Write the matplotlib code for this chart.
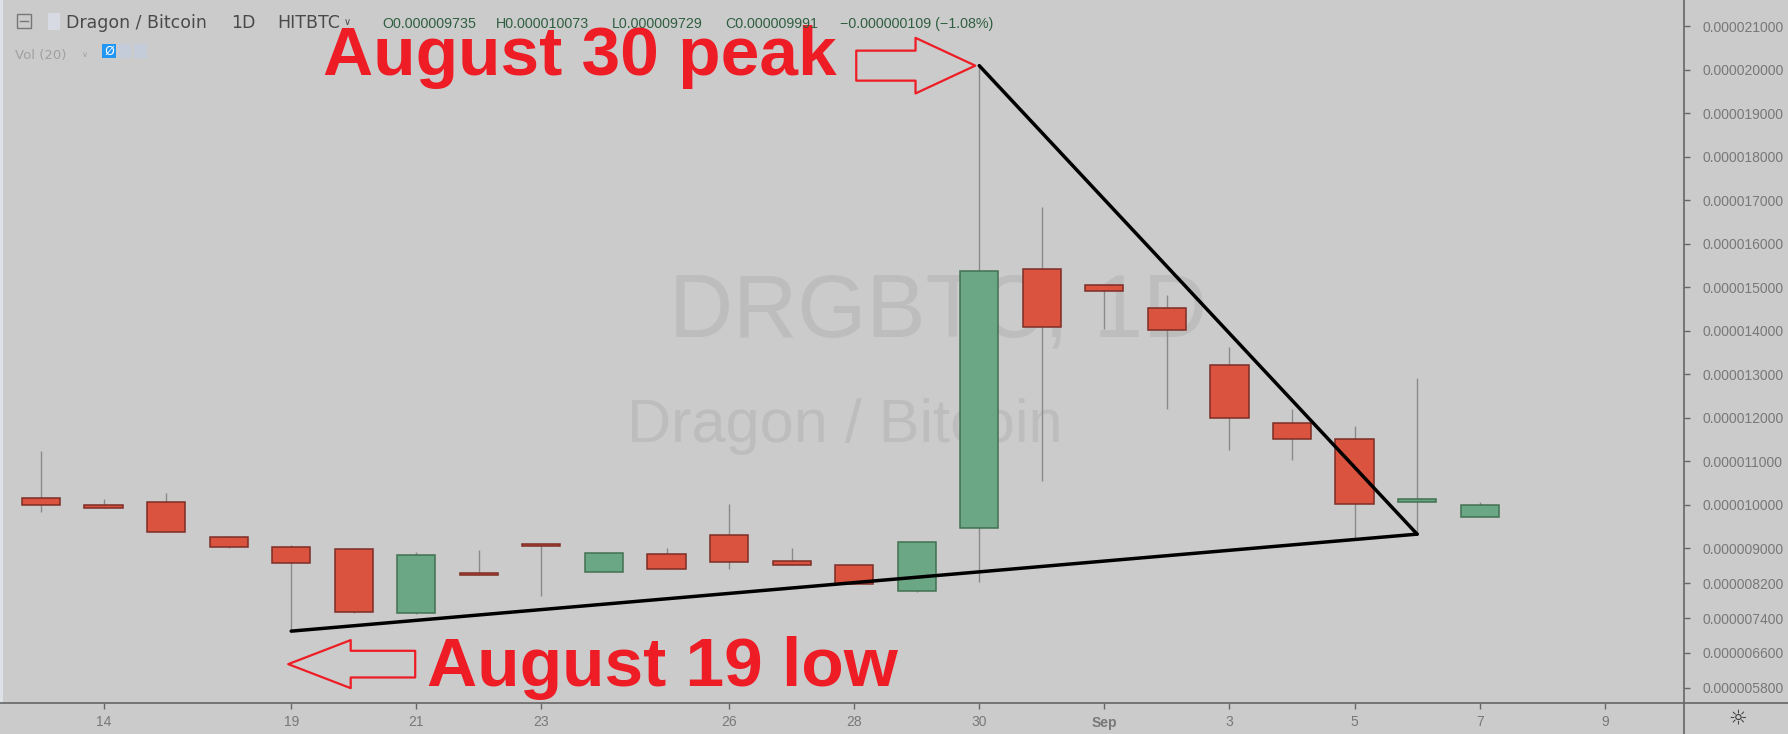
import numpy as np
import matplotlib
matplotlib.use("Agg")
import matplotlib.pyplot as plt
from matplotlib import font_manager
from matplotlib.transforms import offset_copy
from matplotlib.patches import Rectangle
from matplotlib.lines import Line2D

# figure size in pixels
W, H = 1788, 734

# daily candles, prices in 1e-6 BTC
dates = ["Aug 13", "Aug 14", "Aug 15", "Aug 17", "Aug 19", "Aug 20", "Aug 21", "Aug 22",
         "Aug 23", "Aug 24", "Aug 25", "Aug 26", "Aug 27", "Aug 28", "Aug 29", "Aug 30",
         "Aug 31", "Sep 1", "Sep 2", "Sep 3", "Sep 4", "Sep 5", "Sep 6", "Sep 7"]
opens = [10.16, 10.00, 10.07, 9.27, 9.04, 8.99, 7.51, 8.44, 9.10, 8.47, 8.87, 9.30,
         8.71, 8.62, 8.02, 9.46, 15.42, 15.05, 14.53, 13.22, 11.88, 11.51, 10.06, 9.735]
highs = [11.24, 10.14, 10.27, 9.28, 9.07, 9.00, 8.91, 8.96, 9.11, 8.92, 9.00, 10.02,
         9.00, 8.63, 9.16, 20.10, 16.86, 15.06, 14.83, 13.64, 12.21, 11.82, 12.93, 10.073]
lows = [9.84, 9.92, 9.38, 9.02, 7.10, 7.51, 7.50, 8.39, 7.91, 8.46, 8.52, 8.52,
        8.61, 8.18, 8.01, 8.23, 10.56, 14.05, 12.21, 11.26, 11.04, 9.24, 9.33, 9.729]
closes = [9.99, 9.92, 9.39, 9.03, 8.67, 7.53, 8.84, 8.40, 9.06, 8.90, 8.53, 8.70,
          8.62, 8.19, 9.15, 15.39, 14.09, 14.91, 14.03, 12.00, 11.51, 10.02, 10.13, 9.991]

# time axis labels (bar index -> label), price axis ticks in 1e-9 BTC
tick_pos = [1, 4, 6, 8, 11, 13, 15, 17, 19, 21, 23, 25]
tick_labels = ["14", "19", "21", "23", "26", "28", "30", "Sep", "3", "5", "7", "9"]
price_ticks = [21000, 20000, 19000, 18000, 17000, 16000, 15000, 14000, 13000,
               12000, 11000, 10000, 9000, 8200, 7400, 6600, 5800]

# trendline anchor bars: Aug 19 low, Aug 30 high, Sep 6 low
i_low, i_peak, i_apex = 4, 15, 22

BG = "#cbcbcb"
AX = "#666666"
LBL = "#787878"
RED = "#d9533f"
RED_EDGE = "#7e2d24"
GREEN = "#6ba785"
GREEN_EDGE = "#41714f"
WICK = "#8a8a8a"
MARK = "#ee1c24"
WATER = "#bdbdbd"

plt.rcParams["font.family"] = ["Liberation Sans", "DejaVu Sans"]


def have_font(name):
    try:
        font_manager.findfont(font_manager.FontProperties(family=name),
                              fallback_to_default=False)
        return True
    except ValueError:
        return False


# the big watermark is very condensed in the screenshot
if have_font("Liberation Sans Narrow"):
    WM_FAMILY, WM_SIZE = "Liberation Sans Narrow", 76
else:
    WM_FAMILY, WM_SIZE = "Liberation Sans", 64


def fx(px):
    return px / W


def fy(py):
    return 1 - py / H


o = np.array(opens) * 1e-6
h = np.array(highs) * 1e-6
l = np.array(lows) * 1e-6
c = np.array(closes) * 1e-6
idx = np.arange(len(dates))
up = c >= o

fig = plt.figure(figsize=(W / 100, H / 100), dpi=100, facecolor=BG)
ax = fig.add_axes([0, 31 / H, 1684 / W, 703 / H])
ax.set_facecolor(BG)
for s in ax.spines.values():
    s.set_visible(False)

# candles
ax.vlines(idx, l, h, color=WICK, lw=1.0, zorder=2)
ax.bar(idx, np.abs(c - o), bottom=np.minimum(o, c), width=0.61,
       color=np.where(up, GREEN, RED), edgecolor=np.where(up, GREEN_EDGE, RED_EDGE),
       linewidth=1.1, zorder=3)

# triangle trendlines
ax.plot([i_low, i_apex], [l[i_low], l[i_apex]], color="black", lw=2.5,
        solid_capstyle="round", zorder=5)
ax.plot([i_peak, i_apex], [h[i_peak], l[i_apex]], color="black", lw=2.5,
        solid_capstyle="round", zorder=5)

ax.set_xlim(-0.6555, 26.267)
ax.set_ylim(5.448e-6, 21.609e-6)

ax.set_xticks(tick_pos)
ax.set_xticklabels(tick_labels)
for t in ax.get_xticklabels():
    if t.get_text() == "Sep":
        t.set_fontweight("bold")
        t.set_color("#555555")
ax.yaxis.tick_right()
ax.set_yticks([v * 1e-9 for v in price_ticks])
ax.set_yticklabels([f"{v * 1e-9:.9f}" for v in price_ticks])
ax.tick_params(axis="y", direction="out", length=4, width=1, color=AX,
               labelcolor=LBL, labelsize=10, pad=9)
ax.tick_params(axis="x", direction="out", length=4, width=1, color=AX,
               labelcolor=LBL, labelsize=10, pad=5)

# axis borders running through the whole figure
fig.add_artist(Line2D([0, 1], [fy(703), fy(703)], color=AX, lw=1.2))
fig.add_artist(Line2D([fx(1684), fx(1684)], [0, 1], color=AX, lw=1.2))
fig.add_artist(Rectangle((0, fy(703)), fx(3), 703 / H, color="#dde1e8", lw=0))

# watermark
ax.text(fx(938), fy(336), "DRGBTC, 1D", transform=fig.transFigure, ha="center",
        va="baseline", fontsize=WM_SIZE, family=WM_FAMILY, color=WATER, zorder=1)
ax.text(fx(845), fy(442), "Dragon / Bitcoin", transform=fig.transFigure, ha="center",
        va="baseline", fontsize=44, color=WATER, zorder=1)

# annotations
ax.annotate("", xy=(i_peak, h[i_peak]),
            xycoords=offset_copy(ax.transData, fig=fig, x=-4, y=0, units="dots"),
            xytext=(-119, 0), textcoords="offset pixels",
            arrowprops=dict(arrowstyle="simple,head_length=43,head_width=40,tail_width=21.6",
                            fc="none", ec=MARK, lw=1.6, shrinkA=0, shrinkB=0,
                            mutation_scale=1), zorder=6)
ax.annotate("August 30 peak", xy=(i_peak, h[i_peak]), xytext=(-143, -9),
            textcoords="offset pixels", ha="right", va="baseline", fontsize=50,
            fontweight="bold", color=MARK, zorder=6)
ax.annotate("", xy=(i_low, l[i_low]),
            xycoords=offset_copy(ax.transData, fig=fig, x=-3, y=-33, units="dots"),
            xytext=(127, 0), textcoords="offset pixels",
            arrowprops=dict(arrowstyle="simple,head_length=45,head_width=34.6,tail_width=19.2",
                            fc="none", ec=MARK, lw=1.6, shrinkA=0, shrinkB=0,
                            mutation_scale=1), zorder=6)
ax.annotate("August 19 low", xy=(i_low, l[i_low]), xytext=(136, -55),
            textcoords="offset pixels", ha="left", va="baseline", fontsize=50,
            fontweight="bold", color=MARK, zorder=6)

# header
fig.add_artist(Rectangle((fx(17), fy(28)), fx(14), 14 / H, fc="none", ec="#777777", lw=1))
fig.add_artist(Line2D([fx(20), fx(28)], [fy(21), fy(21)], color="#777777", lw=1))
fig.add_artist(Rectangle((fx(48), fy(30)), fx(12), 17 / H, fc="#d7dae3", lw=0))
fig.text(fx(66), fy(28), "Dragon / Bitcoin", fontsize=12.5, color="#4a4a4a",
         family="DejaVu Sans", va="baseline")
fig.text(fx(231), fy(28), "1D", fontsize=12.5, color="#4a4a4a",
         family="DejaVu Sans", va="baseline")
fig.text(fx(277), fy(28), "HITBTC", fontsize=12.5, color="#4a4a4a",
         family="DejaVu Sans", va="baseline")
fig.text(fx(344), fy(25), "\u2228", fontsize=7, color="#4a4a4a",
         family="DejaVu Sans", va="baseline")
ohlc = ["O0.000009735", "H0.000010073", "L0.000009729", "C0.000009991",
        "\u22120.000000109 (\u22121.08%)"]
for xpos, s in zip([382, 496, 612, 725, 840], ohlc):
    fig.text(fx(xpos), fy(28), s, fontsize=10.3, color="#2f5f40", va="baseline")
fig.text(fx(15), fy(59), "Vol (20)", fontsize=9.5, color="#a0a0a0",
         family="DejaVu Sans", va="baseline")
fig.text(fx(82), fy(57), "\u2228", fontsize=6, color="#a0a0a0",
         family="DejaVu Sans", va="baseline")
fig.add_artist(Rectangle((fx(102), fy(58)), fx(14), 14 / H, fc="#2196f3", lw=0))
fig.text(fx(109), fy(51), "Ø", fontsize=9, color="white", family="DejaVu Sans",
         ha="center", va="center")
fig.add_artist(Rectangle((fx(118), fy(58)), fx(13), 14 / H, fc="#c3ccd8", lw=0))
fig.add_artist(Rectangle((fx(134), fy(58)), fx(13), 14 / H, fc="#c3ccd8", lw=0))

# settings gear
fig.text(fx(1738), fy(718), "☼", fontsize=15, color="#333333", family="DejaVu Sans",
         ha="center", va="center")

fig.savefig("out.png", dpi=100, facecolor=BG)
